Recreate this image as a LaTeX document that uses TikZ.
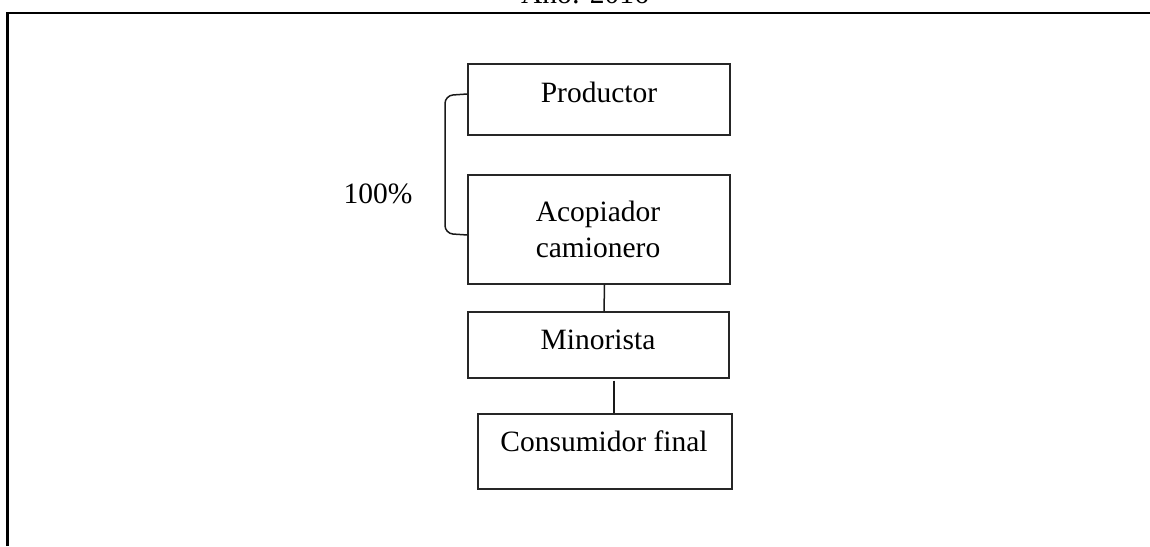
\documentclass[tikz,border=0pt]{standalone}
\usepackage{fontspec}
\setmainfont{Liberation Serif}
\begin{document}
\begin{tikzpicture}[x=1pt,y=-1pt,
  stagebox/.style={draw=black!85,line width=1.4pt,minimum width=#1,inner sep=0pt},
  lbl/.style={anchor=base,inner sep=0pt,font=\fontsize{29.5}{35}\selectfont},
  conn/.style={draw=black!90,line width=1.5pt}]
\useasboundingbox (0,0) rectangle (1150,546);
\begin{scope}
\clip (0,0) rectangle (1150,546);
\node[lbl] (anio) at (585,4) {Año: 2016};
\end{scope}
\draw[line width=2.2pt] (7.5,546) -- (7.5,13) -- (1150,13);
% boxes
\node[stagebox=262pt,minimum height=71pt] (p) at (599,99.5) {};
\node[stagebox=262pt,minimum height=109pt] (a) at (599,229.5) {};
\node[stagebox=261pt,minimum height=66pt] (m) at (598.5,345) {};
\node[stagebox=254pt,minimum height=75pt] (c) at (605,451.5) {};
% texts
\node[lbl] (pt) at (599,102) {Productor};
\node[lbl] (at1) at (598,221) {Acopiador};
\node[lbl] (at2) at (598,257) {camionero};
\node[lbl] (mt) at (598,349) {Minorista};
\node[lbl] (ct) at (604,451) {Consumidor final};
\node[lbl] (pct) at (378,203) {100\%};
% bracket
\draw[conn,rounded corners=8pt] (p.west |- 0,94) -- (445,95.5) -- (445,233.5) -- (a.west |- 0,235);
% connectors
\draw[conn] ([xshift=5.5pt]a.south) -- ([xshift=5.5pt]m.north);
\draw[conn] ([xshift=15.5pt,yshift=-2pt]m.south) -- ([xshift=9pt]c.north);
\end{tikzpicture}
\end{document}
